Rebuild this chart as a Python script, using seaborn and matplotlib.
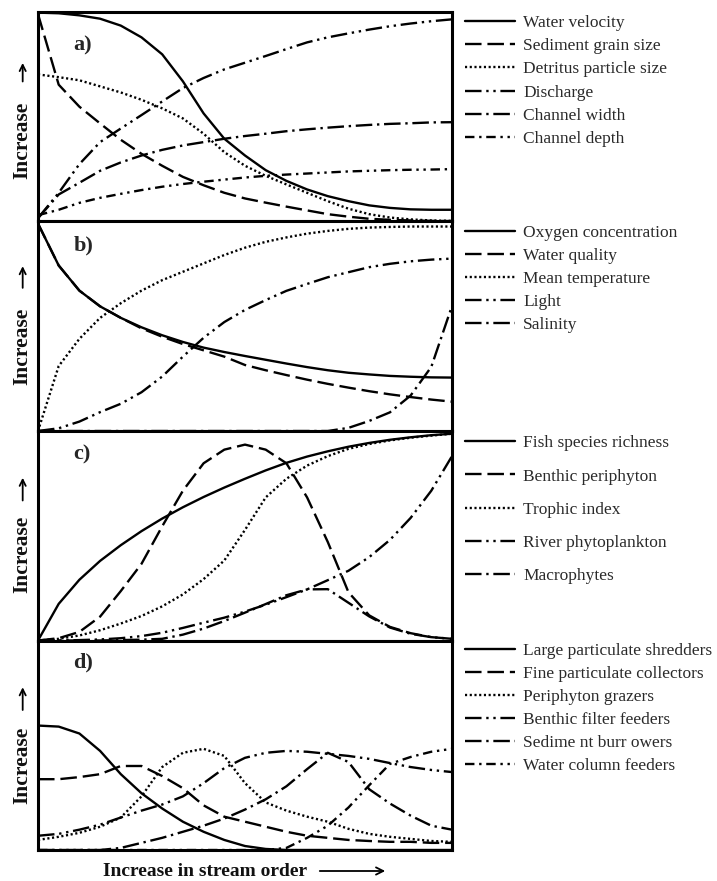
import pandas as pd
import seaborn as sns
import matplotlib.pyplot as plt

# stream order position (0 = headwater, 1 = large river)
x_pos = [0.0, 0.05, 0.1, 0.15, 0.2, 0.25, 0.3, 0.35, 0.4, 0.45, 0.5,
         0.55, 0.6, 0.65, 0.7, 0.75, 0.8, 0.85, 0.9, 0.95, 1.0]

# a) physical
water_velocity = [0.997, 0.994, 0.984, 0.968, 0.935, 0.879, 0.798, 0.669, 0.516, 0.395, 0.315,
                  0.245, 0.194, 0.153, 0.121, 0.097, 0.077, 0.065, 0.058, 0.056, 0.056]
sediment_grain = [0.99, 0.653, 0.548, 0.468, 0.39, 0.323, 0.266, 0.213, 0.173, 0.137, 0.11,
                  0.09, 0.071, 0.053, 0.035, 0.023, 0.013, 0.008, 0.005, 0.003, 0.002]
detritus_size = [0.702, 0.689, 0.674, 0.645, 0.616, 0.581, 0.54, 0.492, 0.419, 0.331, 0.266,
                 0.218, 0.177, 0.137, 0.097, 0.061, 0.035, 0.019, 0.01, 0.005, 0.003]
discharge = [0.016, 0.137, 0.274, 0.379, 0.444, 0.508, 0.573, 0.637, 0.685, 0.726, 0.758,
             0.79, 0.823, 0.855, 0.879, 0.898, 0.916, 0.932, 0.945, 0.956, 0.965]
channel_width = [0.016, 0.129, 0.185, 0.242, 0.282, 0.315, 0.342, 0.363, 0.379, 0.395, 0.408,
                 0.419, 0.431, 0.44, 0.448, 0.455, 0.461, 0.466, 0.469, 0.473, 0.474]
channel_depth = [0.03, 0.056, 0.089, 0.113, 0.132, 0.15, 0.166, 0.179, 0.19, 0.2, 0.21,
                 0.218, 0.224, 0.229, 0.234, 0.239, 0.242, 0.245, 0.247, 0.248, 0.25]

# b) chemical
oxygen = [0.99, 0.79, 0.67, 0.595, 0.54, 0.495, 0.457, 0.425, 0.398, 0.377, 0.358,
          0.34, 0.322, 0.305, 0.29, 0.278, 0.27, 0.263, 0.259, 0.256, 0.255]
water_quality = [0.99, 0.79, 0.67, 0.595, 0.54, 0.49, 0.45, 0.415, 0.385, 0.355, 0.315,
                 0.29, 0.267, 0.245, 0.225, 0.207, 0.19, 0.175, 0.162, 0.15, 0.14]
mean_temp = [0.0, 0.31, 0.44, 0.54, 0.61, 0.67, 0.72, 0.76, 0.8, 0.84, 0.875,
             0.903, 0.924, 0.942, 0.955, 0.965, 0.971, 0.974, 0.976, 0.976, 0.976]
light = [0.0, 0.013, 0.045, 0.09, 0.13, 0.185, 0.26, 0.355, 0.445, 0.52, 0.578,
         0.625, 0.669, 0.702, 0.734, 0.758, 0.782, 0.798, 0.81, 0.818, 0.823]
salinity = [0.0, 0.0, 0.0, 0.0, 0.0, 0.0, 0.0, 0.0, 0.0, 0.0, 0.0,
            0.0, 0.0, 0.0, 0.0, 0.015, 0.048, 0.089, 0.169, 0.306, 0.597]

# c) biota
fish_richness = [0.0, 0.175, 0.29, 0.38, 0.455, 0.522, 0.582, 0.636, 0.685, 0.73, 0.772,
                 0.812, 0.848, 0.878, 0.903, 0.925, 0.943, 0.958, 0.97, 0.98, 0.987]
benthic_periphyton = [0.0, 0.011, 0.041, 0.114, 0.236, 0.366, 0.545, 0.715, 0.846, 0.911, 0.935,
                      0.911, 0.846, 0.683, 0.47, 0.23, 0.12, 0.065, 0.035, 0.016, 0.008]
trophic_index = [0.0, 0.008, 0.024, 0.049, 0.081, 0.117, 0.163, 0.22, 0.293, 0.382, 0.528,
                 0.683, 0.772, 0.835, 0.88, 0.915, 0.938, 0.955, 0.968, 0.978, 0.987]
river_phyto = [0.0, 0.0, 0.002, 0.005, 0.011, 0.021, 0.037, 0.06, 0.085, 0.109, 0.138,
               0.171, 0.207, 0.244, 0.288, 0.333, 0.398, 0.48, 0.585, 0.715, 0.88]
macrophytes = [0.0, 0.0, 0.0, 0.0, 0.002, 0.004, 0.008, 0.028, 0.057, 0.093, 0.133,
               0.174, 0.216, 0.244, 0.245, 0.18, 0.115, 0.062, 0.032, 0.016, 0.008]

# d) invertebrate feeding groups
shredders = [0.594, 0.589, 0.556, 0.473, 0.362, 0.271, 0.198, 0.135, 0.087, 0.048, 0.019,
             0.005, 0.0, 0.0, 0.0, 0.0, 0.0, 0.0, 0.0, 0.0, 0.0]
fine_collectors = [0.338, 0.338, 0.348, 0.362, 0.401, 0.401, 0.353, 0.295, 0.213, 0.159, 0.135,
                   0.111, 0.087, 0.068, 0.058, 0.048, 0.043, 0.039, 0.039, 0.034, 0.034]
grazers = [0.048, 0.063, 0.082, 0.111, 0.155, 0.256, 0.396, 0.464, 0.483, 0.449, 0.319,
           0.227, 0.188, 0.159, 0.135, 0.101, 0.077, 0.063, 0.053, 0.043, 0.039]
filter_feeders = [0.068, 0.077, 0.097, 0.121, 0.155, 0.188, 0.217, 0.256, 0.319, 0.391, 0.44,
                  0.464, 0.473, 0.469, 0.459, 0.449, 0.435, 0.415, 0.396, 0.382, 0.372]
burrowers = [0.0, 0.0, 0.0, 0.0, 0.01, 0.034, 0.058, 0.087, 0.116, 0.15, 0.193,
             0.242, 0.304, 0.386, 0.464, 0.42, 0.29, 0.222, 0.164, 0.116, 0.097]
column_feeders = [0.0, 0.0, 0.0, 0.0, 0.0, 0.0, 0.0, 0.0, 0.0, 0.0, 0.0,
                  0.0, 0.01, 0.058, 0.116, 0.203, 0.309, 0.411, 0.444, 0.469, 0.483]

SOLID = '-'
DASH = (0, (7, 2.5))
DOT = (0, (0.9, 1.1))
DASH_DOT_DOT = (0, (7, 2, 1, 2, 1, 2))
DASH_DOT = (0, (7, 2, 1, 2))
SHORT_DASH_DOT = (0, (4, 2, 1, 2, 4, 2, 1, 2, 1, 2))

panels = [
    ('a)', [('Water velocity', water_velocity, SOLID),
            ('Sediment grain size', sediment_grain, DASH),
            ('Detritus particle size', detritus_size, DOT),
            ('Discharge', discharge, DASH_DOT_DOT),
            ('Channel width', channel_width, DASH_DOT),
            ('Channel depth', channel_depth, SHORT_DASH_DOT)]),
    ('b)', [('Oxygen concentration', oxygen, SOLID),
            ('Water quality', water_quality, DASH),
            ('Mean temperature', mean_temp, DOT),
            ('Light', light, DASH_DOT_DOT),
            ('Salinity', salinity, DASH_DOT)]),
    ('c)', [('Fish species richness', fish_richness, SOLID),
            ('Benthic periphyton', benthic_periphyton, DASH),
            ('Trophic index', trophic_index, DOT),
            ('River phytoplankton', river_phyto, DASH_DOT_DOT),
            ('Macrophytes', macrophytes, DASH_DOT)]),
    ('d)', [('Large particulate shredders', shredders, SOLID),
            ('Fine particulate collectors', fine_collectors, DASH),
            ('Periphyton grazers', grazers, DOT),
            ('Benthic filter feeders', filter_feeders, DASH_DOT_DOT),
            ('Sedime nt burr owers', burrowers, DASH_DOT),
            ('Water column feeders', column_feeders, SHORT_DASH_DOT)]),
]

letter_y = [0.84, 0.885, 0.89, 0.895]
label_y = [0.385, 0.405, 0.41, 0.405]
arrow_y = [(0.655, 0.77), (0.67, 0.8), (0.655, 0.79), (0.655, 0.79)]
leg_spacing = [0.4, 0.4, 0.98, 0.4]
leg_top = [0.985, 0.985, 0.98, 0.99]

sns.set_style('white')
plt.rcParams['font.family'] = ['Liberation Serif', 'DejaVu Sans']

fig = plt.figure(figsize=(7.17, 8.81), dpi=100)
W, H = 717, 881
left, width = 38 / W, 414 / W
ph = 209.5
tops = [12, 221.5, 431, 640.5]

for i, (letter, series) in enumerate(panels):
    ax = fig.add_axes([left, 1 - (tops[i] + ph) / H, width, ph / H])
    for name, vals, ls in series:
        sns.lineplot(x=x_pos, y=vals, ax=ax, color='black', lw=1.7,
                     linestyle=ls, label=name)
    ax.set_xlim(0, 1)
    ax.set_ylim(0, 1)
    ax.set_xticks([])
    ax.set_yticks([])
    ax.set_xlabel('')
    ax.set_ylabel('')
    for sp in ax.spines.values():
        sp.set_visible(True)
        sp.set_color('black')
        sp.set_linewidth(2.2)
    ax.text(0.085, letter_y[i], letter, transform=ax.transAxes, fontsize=16,
            fontweight='bold', va='center', ha='left')
    ax.text(-0.037, label_y[i], 'Increase', transform=ax.transAxes, rotation=90,
            fontsize=15.5, fontweight='bold', va='center', ha='center', color='#111111')
    ax.annotate('', xy=(-0.037, arrow_y[i][1]), xytext=(-0.037, arrow_y[i][0]),
                xycoords='axes fraction', annotation_clip=False,
                arrowprops=dict(arrowstyle='->', lw=1.3, color='black', mutation_scale=11))
    leg = ax.legend(loc='upper left', bbox_to_anchor=(1.031, leg_top[i]), frameon=False,
                    borderpad=0, borderaxespad=0, fontsize=12.5, handlelength=2.9,
                    handletextpad=0.45, labelspacing=leg_spacing[i])
    for t in leg.get_texts():
        t.set_color('#2a2a2a')

fig.text(205 / W, 1 - 871 / H, 'Increase in stream order', fontsize=14,
         fontweight='bold', ha='center', va='center', color='#111111')
fig.add_artist(plt.matplotlib.patches.FancyArrowPatch(
    (317 / W, 1 - 871 / H), (388 / W, 1 - 871 / H), transform=fig.transFigure,
    arrowstyle='->', lw=1.3, color='black', mutation_scale=13))

fig.savefig('out.png', dpi=100, facecolor='white')
